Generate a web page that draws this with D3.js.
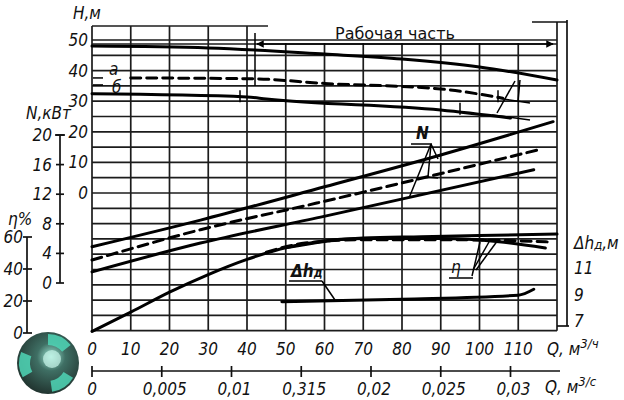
<!DOCTYPE html>
<html>
<head>
<meta charset="utf-8">
<script src="https://cdn.jsdelivr.net/npm/d3@7"></script>
<style>
body { margin: 0; background: #fff; }
svg { display: block; }
.lbl { font-family: 'Liberation Sans Narrow', 'DejaVu Sans Condensed', sans-serif; font-style: italic; font-size: 17px; fill: #111; }
.grid { stroke: #1c1c1c; stroke-width: 1.7; }
.axis { stroke: #111; stroke-width: 1.7; fill: none; }
.curve { fill: none; stroke: #000; stroke-width: 3; stroke-linecap: round; }
.thin { fill: none; stroke: #000; stroke-width: 1.5; }
</style>
</head>
<body>
<div id="chart"></div>
<script>
'use strict';

// tick values
var qTicks = [0, 10, 20, 30, 40, 50, 60, 70, 80, 90, 100, 110];
var qsTicks = [0, 0.005, 0.01, 0.015, 0.02, 0.025, 0.03];
var qsLabels = ['0', '0,005', '0,01', '0,315', '0,02', '0,025', '0,03'];
var hTicks = [0, 10, 20, 30, 40, 50];
var nTicks = [0, 4, 8, 12, 16, 20];
var etaTicks = [0, 20, 40, 60];
var dhTicks = [7, 9, 11];
var gridRows = [-45, -40, -35, -30, -25, -20, -15, -10, -5, 0, 5, 10, 15, 20, 25, 30, 35, 40, 45, 50];

// H, m
var hMainQ = [0, 30, 60, 80, 100, 120];
var hMain = [48.0, 47.4, 45.4, 43.8, 41.2, 36.9];
var hAQ = [10, 42, 60, 90, 106];
var hA = [37.6, 37.3, 35.8, 34.0, 31.0];
var hBQ = [0, 40, 45, 90, 108];
var hB = [32.4, 31.4, 30.7, 27.1, 24.5];

// N, kW
var n1Q = [0, 28, 60, 90, 119];
var n1 = [4.9, 8.5, 13.0, 17.3, 21.8];
var n2Q = [0, 28, 58, 116];
var n2 = [3.1, 7.2, 10.8, 18.1];
var n3Q = [0, 28, 59, 114];
var n3 = [1.5, 5.4, 8.9, 15.3];

// efficiency, %
var eta1Q = [0, 10, 20, 30, 40, 50, 60, 70, 85, 100, 120];
var eta1 = [1, 13, 25.5, 36.5, 46, 53.3, 57.5, 59.3, 60.2, 61, 61.8];
var eta2Q = [45, 55, 70, 90, 110, 118];
var eta2 = [50.5, 56.2, 58.3, 58.3, 57.6, 56.9];
var eta3Q = [50, 70, 90, 105, 117];
var eta3 = [53.3, 59.0, 59.0, 57.0, 53.1];

// NPSH, m
var dhQ = [49, 80, 110, 114];
var dh = [8.45, 8.65, 8.95, 9.4];

var width = 624, height = 400;

var svg = d3.select('#chart').append('svg')
    .attr('width', width)
    .attr('height', height);

var x = d3.scaleLinear().domain([0, 120]).range([92, 557]);
var xs = d3.scaleLinear().domain([0, 120 / 3600]).range([92, 557]);
var yH = d3.scaleLinear().domain([0, 50]).range([193, 40]);
var yN = d3.scaleLinear().domain([0, 20]).range([283, 135]);
var yEta = d3.scaleLinear().domain([0, 60]).range([333, 237]);
var yDh = d3.scaleLinear().domain([7, 11]).range([321, 268]);

var buildGrid = function(){
    var g = svg.append('g');
    g.selectAll('.row')
        .data(gridRows)
        .enter()
        .append('line')
        .attr('class', 'grid')
        .attr('x1', x(0))
        .attr('x2', x(120))
        .attr('y1', function(d){ return yH(d); })
        .attr('y2', function(d){ return yH(d); });

    g.selectAll('.col')
        .data(qTicks.concat([120]))
        .enter()
        .append('line')
        .attr('class', 'grid')
        .attr('x1', function(d){ return x(d); })
        .attr('x2', function(d){ return x(d); })
        .attr('y1', function(d){ return d <= 40 ? 26 : (d === 120 ? 22 : 43); })
        .attr('y2', yH(-45));

    // upper left border piece
    g.append('line').attr('class', 'grid')
        .attr('x1', x(0)).attr('x2', 268).attr('y1', 26).attr('y2', 26);
    g.append('line').attr('class', 'grid')
        .attr('x1', x(0)).attr('x2', x(120)).attr('y1', 44).attr('y2', 44);
};

var buildAxes = function(){
    // bottom Q, m3/h labels
    svg.selectAll('.qlab')
        .data(qTicks)
        .enter()
        .append('text')
        .attr('class', 'lbl')
        .attr('x', function(d){ return x(d); })
        .attr('y', 355)
        .attr('text-anchor', 'middle')
        .text(function(d){ return d; });

    var tq = svg.append('text').attr('class', 'lbl').attr('x', 547).attr('y', 355).text('Q, м');
    tq.append('tspan').attr('dy', -7).attr('font-size', 13).text('3/ч');

    // Q, m3/s axis
    svg.append('line').attr('class', 'axis')
        .attr('x1', xs(0)).attr('x2', 560).attr('y1', 371).attr('y2', 371);
    svg.selectAll('.qstick')
        .data(qsTicks)
        .enter()
        .append('line')
        .attr('class', 'axis')
        .attr('x1', function(d){ return xs(d); })
        .attr('x2', function(d){ return xs(d); })
        .attr('y1', 366)
        .attr('y2', 377);
    svg.selectAll('.qslab')
        .data(qsTicks)
        .enter()
        .append('text')
        .attr('class', 'lbl')
        .attr('x', function(d){ return xs(d) + (d === 0 ? 0 : 3); })
        .attr('y', 395)
        .attr('text-anchor', 'middle')
        .text(function(d, i){ return qsLabels[i]; });
    var ts = svg.append('text').attr('class', 'lbl').attr('x', 545).attr('y', 393).text('Q, м');
    ts.append('tspan').attr('dy', -7).attr('font-size', 13).text('3/с');

    // H axis
    svg.selectAll('.hlab')
        .data(hTicks)
        .enter()
        .append('text')
        .attr('class', 'lbl')
        .attr('x', 88)
        .attr('y', function(d){ return yH(d) + 6; })
        .attr('text-anchor', 'end')
        .text(function(d){ return d; });
    svg.append('text').attr('class', 'lbl').attr('x', 73).attr('y', 19).text('H,м');

    // N axis
    svg.append('line').attr('class', 'axis')
        .attr('x1', 60).attr('x2', 60).attr('y1', yN(20)).attr('y2', yN(0));
    svg.append('line').attr('class', 'axis')
        .attr('x1', 55).attr('x2', 65).attr('y1', yN(20)).attr('y2', yN(20));
    svg.selectAll('.ntick')
        .data(nTicks)
        .enter()
        .append('line')
        .attr('class', 'axis')
        .attr('x1', 56).attr('x2', 64)
        .attr('y1', function(d){ return yN(d); })
        .attr('y2', function(d){ return yN(d); });
    svg.selectAll('.nlab')
        .data(nTicks)
        .enter()
        .append('text')
        .attr('class', 'lbl')
        .attr('x', 52)
        .attr('y', function(d){ return yN(d) + 6; })
        .attr('text-anchor', 'end')
        .text(function(d){ return d; });
    svg.append('text').attr('class', 'lbl').attr('font-size', 16).attr('x', 26).attr('y', 119).text('N,кВт');

    // eta axis
    svg.append('line').attr('class', 'axis')
        .attr('x1', 27).attr('x2', 27).attr('y1', yEta(60)).attr('y2', yEta(0));
    svg.selectAll('.etick')
        .data(etaTicks)
        .enter()
        .append('line')
        .attr('class', 'axis')
        .attr('x1', 23).attr('x2', 32)
        .attr('y1', function(d){ return yEta(d); })
        .attr('y2', function(d){ return yEta(d); });
    svg.selectAll('.elab')
        .data(etaTicks)
        .enter()
        .append('text')
        .attr('class', 'lbl')
        .attr('x', 23)
        .attr('y', function(d){ return yEta(d) + 6; })
        .attr('text-anchor', 'end')
        .text(function(d){ return d; });
    svg.append('text').attr('class', 'lbl').attr('font-size', 16).attr('x', 8).attr('y', 225).text('η%');

    // dh axis (right)
    svg.append('line').attr('class', 'axis')
        .attr('x1', 567).attr('x2', 567).attr('y1', 20).attr('y2', 326);
    svg.append('line').attr('class', 'axis')
        .attr('x1', 532).attr('x2', 567).attr('y1', 22).attr('y2', 22);
    svg.append('line').attr('class', 'axis')
        .attr('x1', 557).attr('x2', 569).attr('y1', 326).attr('y2', 326);
    svg.selectAll('.dlab')
        .data(dhTicks)
        .enter()
        .append('text')
        .attr('class', 'lbl')
        .attr('x', 574)
        .attr('y', function(d){ return yDh(d) + 6; })
        .text(function(d){ return d; });
    var td = svg.append('text').attr('class', 'lbl').attr('x', 574).attr('y', 249).text('Δh');
    td.append('tspan').attr('font-size', 13).text('д');
    td.append('tspan').text(',м');
};

var drawCurve = function(qs, vals, yScale, dashed){
    var line = d3.line()
        .x(function(d){ return x(d[0]); })
        .y(function(d){ return yScale(d[1]); })
        .curve(d3.curveMonotoneX);
    svg.append('path')
        .datum(d3.zip(qs, vals))
        .attr('class', 'curve')
        .attr('stroke-width', dashed ? 2.2 : 3)
        .attr('stroke-dasharray', dashed ? '10,6' : null)
        .attr('d', line);
};

var buildCurves = function(){
    drawCurve(hMainQ, hMain, yH, false);
    drawCurve(hAQ, hA, yH, true);
    drawCurve(hBQ, hB, yH, false);
    drawCurve(n1Q, n1, yN, false);
    drawCurve(n2Q, n2, yN, true);
    drawCurve(n3Q, n3, yN, false);
    drawCurve(eta1Q, eta1, yEta, false);
    drawCurve(eta2Q, eta2, yEta, true);
    drawCurve(eta3Q, eta3, yEta, false);
    drawCurve(dhQ, dh, yDh, false);

    // small dash before label a
    svg.append('line').attr('class', 'thin').attr('stroke-width', 2)
        .attr('x1', 93).attr('x2', 103).attr('y1', yH(hA[0])).attr('y2', yH(hA[0]));
    svg.append('line').attr('class', 'thin').attr('stroke-width', 2)
        .attr('x1', 93).attr('x2', 103).attr('y1', yH(hA[0]) + 7).attr('y2', yH(hA[0]) + 7);
};

var buildNotes = function(){
    svg.append('defs').append('marker')
        .attr('id', 'arr')
        .attr('viewBox', '0 0 10 10')
        .attr('refX', 9).attr('refY', 5)
        .attr('markerWidth', 7).attr('markerHeight', 5)
        .attr('orient', 'auto-start-reverse')
        .append('path').attr('d', 'M0,0L10,5L0,10z').attr('fill', '#000');

    svg.append('line').attr('class', 'thin').attr('stroke-width', 2)
        .attr('x1', 257).attr('x2', 553).attr('y1', 44).attr('y2', 44)
        .attr('marker-start', 'url(#arr)')
        .attr('marker-end', 'url(#arr)');
    svg.append('line').attr('class', 'thin')
        .attr('x1', 255).attr('x2', 255).attr('y1', 33).attr('y2', 86);
    svg.append('text')
        .attr('x', 335).attr('y', 39)
        .attr('font-family', 'DejaVu Sans, sans-serif')
        .attr('font-size', 16)
        .attr('fill', '#111')
        .text('Рабочая часть');

    // range marks on the trimmed curves
    var marks = [[240, yH(31.6)], [460, yH(27.5)], [498, yH(31.6)]];
    svg.selectAll('.mark')
        .data(marks)
        .enter()
        .append('line')
        .attr('class', 'thin')
        .attr('x1', function(d){ return d[0]; })
        .attr('x2', function(d){ return d[0]; })
        .attr('y1', function(d){ return d[1] - 6; })
        .attr('y2', function(d){ return d[1] + 6; });

    // curve labels a / б
    svg.append('text').attr('class', 'lbl').attr('font-size', 15).attr('x', 109).attr('y', 75).text('a');
    svg.append('text').attr('class', 'lbl').attr('font-size', 15).attr('x', 112).attr('y', 93).text('б');

    // II label
    var seg = function(x1, y1, x2, y2){
        svg.append('line').attr('class', 'thin')
            .attr('x1', x1).attr('y1', y1).attr('x2', x2).attr('y2', y2);
    };
    seg(497, 113, 515, 81);
    seg(520, 80, 518, 101);
    seg(492, 115, 530, 120);
    seg(497, 98, 530, 103);

    // N label
    svg.append('text').attr('class', 'lbl').attr('font-weight', 'bold').attr('x', 416).attr('y', 139).text('N');
    seg(411, 144, 432, 144);
    seg(431, 144, 438, 159);
    seg(431, 144, 428, 177);
    seg(428, 177, 438, 178);
    seg(431, 144, 409, 198);

    // eta label
    svg.append('text').attr('class', 'lbl').attr('font-size', 16).attr('x', 451).attr('y', 273).text('η');
    seg(449, 278, 473, 278);
    seg(472, 276, 480, 242);
    seg(473, 270, 489, 242);
    seg(476, 270, 498, 240);

    // dh label
    var tl = svg.append('text').attr('class', 'lbl').attr('font-size', 15).attr('font-weight', 'bold')
        .attr('x', 291).attr('y', 277).text('Δh');
    tl.append('tspan').attr('font-size', 12).text('д');
    seg(289, 281, 322, 281);
    seg(322, 281, 335, 300);
};

var buildLogo = function(){
    var defs = svg.append('defs');
    var grad = defs.append('radialGradient').attr('id', 'lg')
        .attr('cx', '55%').attr('cy', '40%').attr('r', '65%');
    grad.append('stop').attr('offset', '0%').attr('stop-color', '#9fe8d6');
    grad.append('stop').attr('offset', '35%').attr('stop-color', '#3f6f64');
    grad.append('stop').attr('offset', '100%').attr('stop-color', '#1e2e2a');
    var g = svg.append('g').attr('transform', 'translate(48,363)');
    g.append('circle').attr('r', 31).attr('fill', 'url(#lg)');
    var arcs = [[0, 1.6], [2.1, 3.7], [4.2, 5.8]];
    g.selectAll('.sw')
        .data(arcs)
        .enter()
        .append('path')
        .attr('d', function(d){
            return d3.arc().innerRadius(18).outerRadius(29).startAngle(d[0]).endAngle(d[0] + 0.9)();
        })
        .attr('fill', '#4fd6b6')
        .attr('opacity', 0.85);
    g.append('circle').attr('r', 9).attr('cx', 4).attr('cy', -4).attr('fill', '#c9f5ea').attr('opacity', 0.7);
};

buildGrid();
buildCurves();
buildAxes();
buildNotes();
buildLogo();
</script>
</body>
</html>
